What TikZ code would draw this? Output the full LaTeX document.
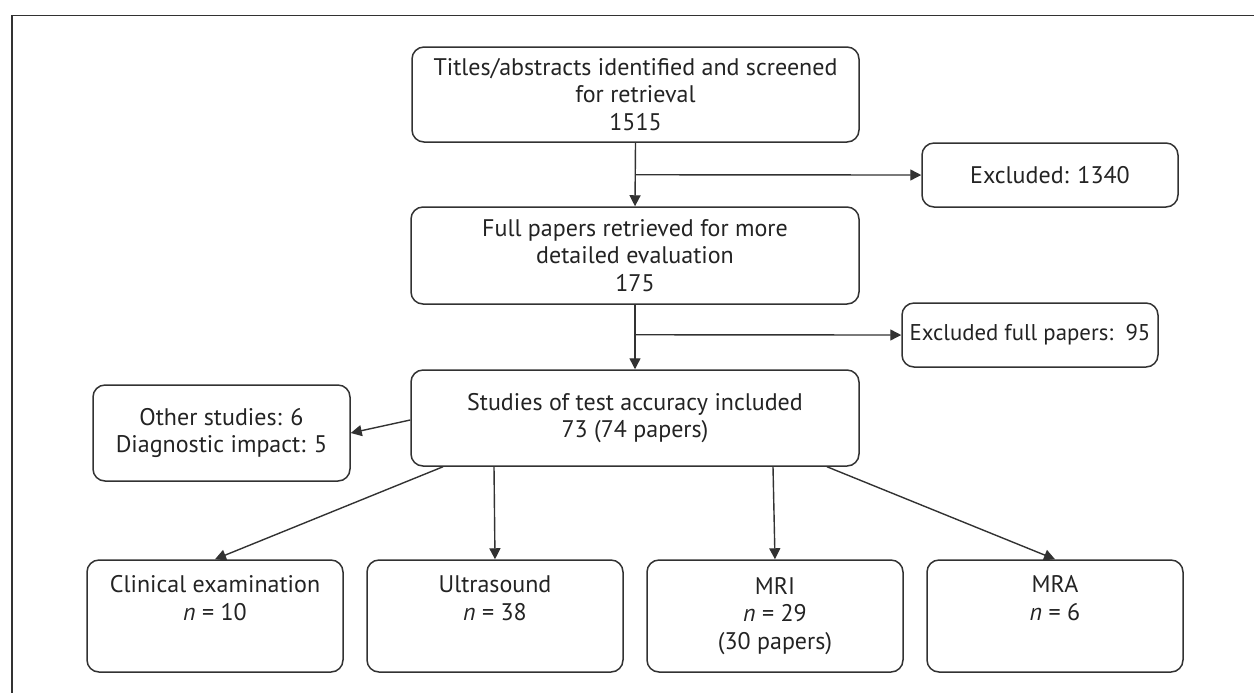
\documentclass[tikz,border=0pt]{standalone}
\usepackage{fontspec}
\setmainfont{PT Sans}
\usepackage{tikz}
\usetikzlibrary{arrows.meta, positioning, calc}
\definecolor{linegray}{RGB}{50, 50, 50}
\definecolor{textgray}{RGB}{35, 35, 35}

\begin{document}
\begin{tikzpicture}[x=0.5pt, y=-0.5pt, every node/.style={font=\fontsize{12}{13.8}\selectfont, text=textgray},
    stage/.style={draw=linegray, line width=0.75pt, rounded corners=6pt, align=center, inner sep=0pt},
    flow/.style={draw=linegray, line width=0.7pt, -{Triangle[length=5.5pt, width=5.5pt]}}]
        \useasboundingbox (0,0) rectangle (1254,693);
        % Frame (top and left only)
        \draw[linegray, line width=0.75pt] (1254,15.5) -- (12,15.5) -- (12,693);
        % Main column
        \node[stage, minimum width=223.5pt, minimum height=47.5pt] (titles) at (635.5,94.5)
          {Titles/abstracts identified and screened\\ for retrieval\\ 1515};
        \node[stage, minimum width=224pt, minimum height=48.5pt] (fullpapers) at (635,255.5)
          {Full papers retrieved for more\\ detailed evaluation\\ 175};
        \node[stage, minimum width=224pt, minimum height=48pt] (studies) at (635,418)
          {Studies of test accuracy included\\ 73 (74 papers)};
        % Side boxes
        \node[stage, minimum width=128pt, minimum height=32pt] (excluded) at (1050,175) {Excluded: 1340};
        \node[stage, minimum width=128pt, minimum height=32pt, font=\fontsize{11.4}{13.8}\selectfont] (exclfull) at (1030,335)
          {Excluded full papers:\ \ 95};
        \node[stage, minimum width=128.5pt, minimum height=48pt] (other) at (221.5,433)
          {Other studies: 6\\ Diagnostic impact: 5};
        % Test boxes
        \foreach \name/\cx/\txt in {clinical/215/{Clinical examination\\ \textit{n} = 10\\ \strut},
            ultra/495/{Ultrasound\\ \textit{n} = 38\\ \strut},
            mri/775/{MRI\\ \textit{n} = 29\\ (30 papers)},
            mra/1055/{MRA\\ \textit{n} = 6\\ \strut}}{
          \node[stage, minimum width=128pt, minimum height=56pt] (\name) at (\cx,616) {\txt};
        }
        % Connectors
        \coordinate (split1) at ($(titles.south)+(0,32)$);
        \coordinate (split2) at ($(fullpapers.south)+(0,30)$);
        \draw[flow] (titles.south) -- (fullpapers.north);
        \draw[flow] (split1) -- (excluded.west);
        \draw[flow] (fullpapers.south) -- (studies.north);
        \draw[flow] (split2) -- (exclfull.west);
        \draw[flow] ($(studies.west)+(0,2)$) -- (other.east);
        \foreach \dx/\tgt in {-192/clinical, -141/ultra, 138/mri, 192/mra}{
          \draw[flow] ($(studies.south)+(\dx,0)$) -- (\tgt.north);
        }
      \end{tikzpicture}
\end{document}
